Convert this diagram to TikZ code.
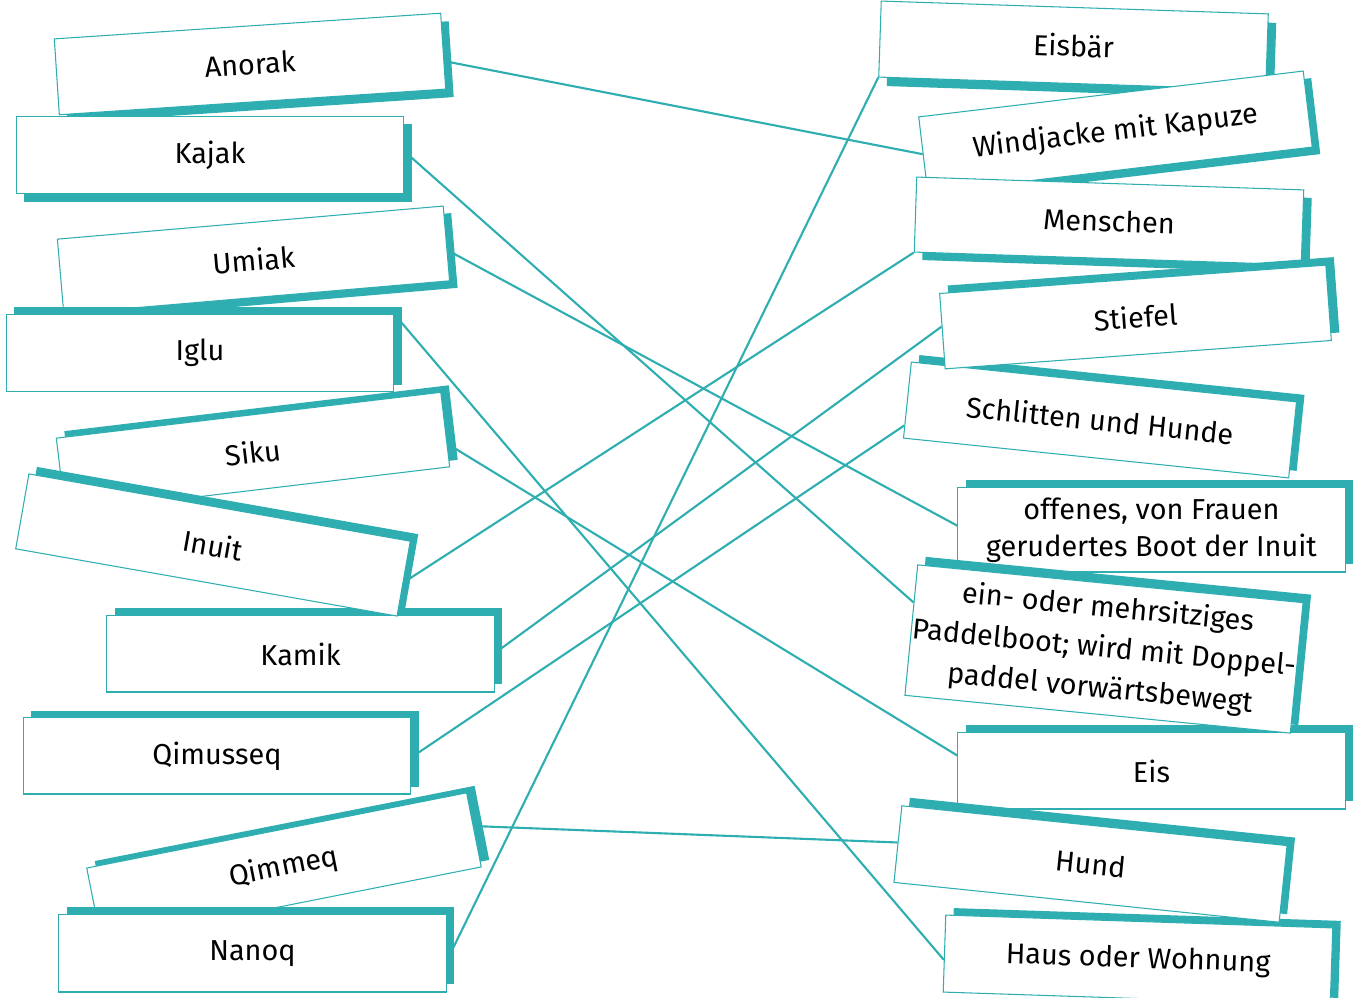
\documentclass[tikz,border=0pt]{standalone}
\usepackage{fontspec}
\setmainfont{Fira Sans}
\usetikzlibrary{calc,shadows,backgrounds}
\definecolor{cardteal}{RGB}{46,174,176}
\tikzset{
  card/.style={draw=cardteal, line width=0.3pt, fill=white, inner sep=0pt,
    minimum width=3.87cm, align=center, font=\fontsize{8.2}{10.2}\selectfont},
  link/.style={draw=cardteal, line width=0.6pt},
}
\begin{document}
\begin{tikzpicture}[x=0.01cm, y=-0.01cm]
  \useasboundingbox (0,0) rectangle (1357,998);
  % 왼쪽 카드 — 위에서 아래로
  \foreach \n/\x/\y/\a/\h/\s/\t in {
    anorak/250/64/3.8/0.76/-0.08/Anorak,
    kajak/210/155/0/0.77/-0.08/Kajak,
    umiak/253.5/260/4.9/0.75/-0.07/Umiak,
    iglu/200/353/0/0.77/0.07/Iglu,
    siku/253/452.5/6.8/0.75/0.07/Siku,
    kamik/300.5/654/0/0.76/0.08/Kamik,
    inuit/213/545/-10/0.76/0.07/Inuit,
    qimusseq/217/756/0/0.76/0.07/Qimusseq,
    qimmeq/284/867.5/11.2/0.755/0.07/Qimmeq,
    nanoq/252.5/953.5/0/0.77/0.08/Nanoq}{
    \node[card, minimum height=\h cm, rotate=\a,
      drop shadow={shadow xshift=0.08cm, shadow yshift=\s cm, fill=cardteal, opacity=1}]
      (\n) at (\x,\y) {\t};
  }
  % 오른쪽 카드 — 뜻풀이
  \foreach \n/\x/\y/\a/\h/\s/\t in {
    eisbaer/1073.5/45.5/-1.9/0.76/-0.09/Eisbär,
    windjacke/1115.5/132/6.8/0.765/-0.07/Windjacke mit Kapuze,
    menschen/1109/221/-1.9/0.75/-0.08/Menschen,
    schlitten/1100/420/-5.9/0.764/0.07/Schlitten und Hunde,
    stiefel/1135.5/317/4.2/0.755/0.08/Stiefel,
    offenes/1151.5/530/0/0.84/0.08/{offenes, von Frauen\\[0.3pt]gerudertes Boot der Inuit},
    eis/1151.5/771/0/0.76/0.08/Eis,
    einoder/1104/649/-5.6/1.31/0.08/{ein- oder mehrsitziges\\[1.3pt]Paddelboot; wird mit Doppel-\\[1.3pt]paddel vorwärtsbewegt},
    haus/1138/960/-1.9/0.77/0.07/Haus oder Wohnung,
    hund/1090.5/864/-5.9/0.77/0.08/Hund}{
    \node[card, minimum height=\h cm, rotate=\a,
      drop shadow={shadow xshift=0.08cm, shadow yshift=\s cm, fill=cardteal, opacity=1}]
      (\n) at (\x,\y) {\t};
  }
  % 짝을 이은 선
  \begin{scope}[on background layer]
    \foreach \p/\f/\q/\g in {anorak/0.63/windjacke/0.49, kajak/0.45/einoder/0.29,
      umiak/0.59/offenes/0.45, iglu/0/haus/0.58, siku/0.69/eis/0.3,
      inuit/0.55/menschen/1, kamik/0.49/stiefel/0.44, qimusseq/0.52/schlitten/0.83,
      qimmeq/0.45/hund/0.48, nanoq/0.6/eisbaer/1}{
      \draw[link] ($(\p.north east)!\f!(\p.south east)$) -- ($(\q.north west)!\g!(\q.south west)$);
    }
  \end{scope}
\end{tikzpicture}
\end{document}
